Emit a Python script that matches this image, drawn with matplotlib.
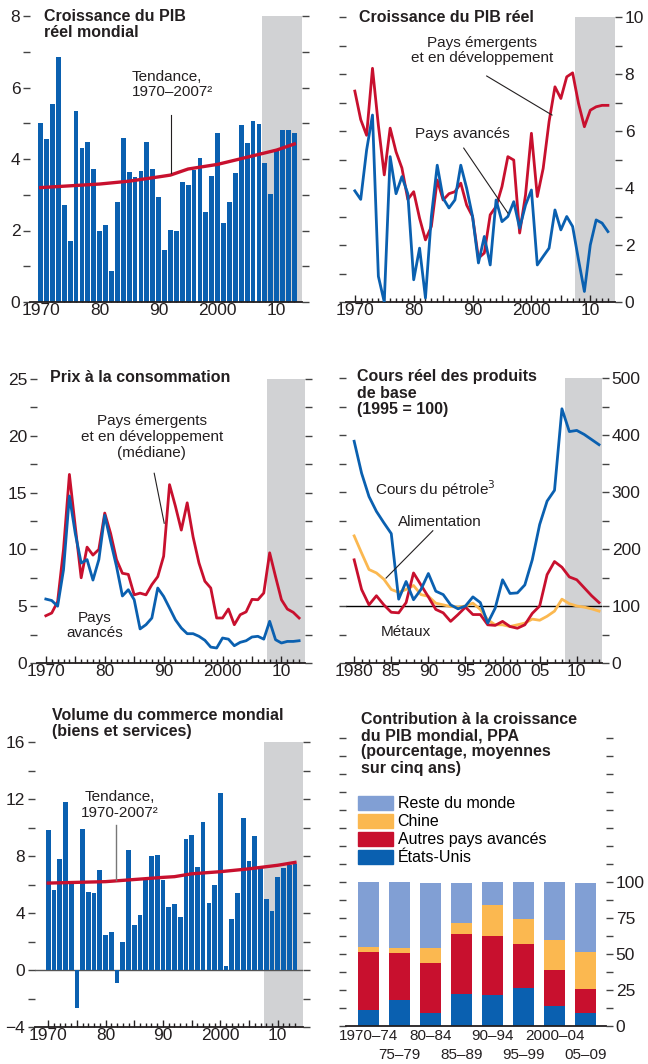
import numpy as np
import matplotlib
matplotlib.use('Agg')
import matplotlib.pyplot as plt
from matplotlib.patches import Patch
from matplotlib.ticker import FixedLocator, MultipleLocator

plt.rcParams['font.family'] = ['Liberation Sans', 'DejaVu Sans']

BLUE = '#0a60b0'
RED = '#c8102e'
ORANGE = '#fbb850'
LIGHTBLUE = '#819fd4'
SHADE = '#d1d2d4'
DARK = '#231f20'

TICK_FS = 12.5
TITLE_FS = 11.5
NOTE_FS = 11

# ---- data ----
years = np.arange(1970, 2014)

gdp_world = [5.0, 4.55, 5.53, 6.84, 2.71, 1.71, 5.34, 4.31, 4.47, 3.71,
             1.99, 2.15, 0.87, 2.80, 4.59, 3.63, 3.49, 3.67, 4.47, 3.71,
             2.94, 1.46, 2.02, 1.99, 3.35, 3.27, 3.70, 4.03, 2.53, 3.53,
             4.72, 2.21, 2.80, 3.60, 4.94, 4.46, 5.07, 4.99, 3.89, 3.02,
             4.21, 4.80, 4.80, 4.72]
trend_years = [1970, 1975, 1980, 1985, 1990, 1992, 1995, 2000, 2005, 2010, 2013]
gdp_trend = [3.2, 3.25, 3.3, 3.38, 3.5, 3.55, 3.72, 3.85, 4.05, 4.25, 4.42]

gdp_emde = [7.4, 6.4, 5.85, 8.2, 6.2, 4.46, 6.1, 5.27, 4.7, 3.6,
            3.87, 2.94, 2.18, 2.65, 4.28, 3.58, 3.8, 3.87, 4.17, 3.4,
            3.0, 1.54, 1.72, 3.06, 3.35, 4.05, 5.1, 4.98, 2.42, 3.76,
            5.92, 3.7, 4.69, 6.33, 7.55, 7.14, 7.9, 8.04, 6.97, 6.15,
            6.73, 6.85, 6.9, 6.9]
gdp_adv = [3.9, 3.6, 5.33, 6.56, 0.9, 0.0, 5.1, 3.8, 4.4, 3.8,
           0.78, 1.89, 0.14, 3.0, 4.8, 3.64, 3.3, 3.58, 4.8, 3.99,
           3.0, 1.37, 2.3, 1.3, 3.58, 2.82, 3.0, 3.52, 2.59, 3.4,
           3.93, 1.3, 1.6, 1.89, 3.23, 2.53, 3.0, 2.65, 1.48, 0.37,
           2.0, 2.88, 2.77, 2.47]

cpi_emde = [4.16, 4.4, 5.4, 10.0, 16.6, 12.0, 7.5, 10.2, 9.5, 10.0,
            13.2, 11.4, 9.1, 7.9, 7.8, 6.0, 6.15, 6.0, 6.9, 7.6,
            9.4, 15.7, 13.8, 11.7, 14.1, 11.1, 8.8, 7.2, 6.6, 3.96,
            3.96, 4.75, 3.37, 4.25, 4.5, 5.6, 5.57, 6.16, 9.7, 7.6,
            5.57, 4.75, 4.46, 3.96]
cpi_adv = [5.63, 5.5, 5.0, 8.2, 14.7, 11.4, 8.8, 9.1, 7.3, 9.1,
           13.0, 10.7, 8.5, 5.9, 6.45, 5.57, 3.0, 3.37, 3.96, 6.6,
           5.86, 4.84, 3.8, 3.08, 2.58, 2.58, 2.35, 2.0, 1.4, 1.32,
           2.2, 2.1, 1.52, 1.82, 1.96, 2.29, 2.35, 2.1, 3.67, 2.05,
           1.76, 1.9, 1.9, 1.96]

com_years = np.arange(1980, 2014)
oil = [389, 333, 292, 266, 246, 227, 112, 143, 111, 129,
       157, 126, 120, 102, 95, 100, 116, 106, 70, 96,
       146, 122, 123, 137, 181, 243, 284, 303, 446, 406,
       408, 401, 392, 383]
food = [223, 193, 164, 158, 147, 129, 124, 129, 136, 120,
        117, 105, 102, 99, 98, 100, 105, 94, 76, 67,
        67, 64, 67, 70, 77, 75, 82, 91, 112, 104,
        100, 98, 95, 91]
metals = [181, 129, 102, 118, 102, 89, 88, 106, 158, 137,
          116, 94, 88, 73, 85, 98, 85, 85, 67, 66,
          73, 64, 61, 67, 87, 100, 155, 178, 168, 151,
          146, 132, 118, 106]

trade = [9.8, 5.6, 7.8, 11.8, 6.2, -2.67, 9.87, 5.5, 5.4, 7.0,
         2.43, 2.7, -0.91, 2.0, 8.4, 3.13, 3.84, 6.34, 8.0, 8.1,
         6.3, 4.4, 4.6, 3.7, 9.17, 9.45, 7.2, 10.36, 4.68, 5.94,
         12.4, 0.28, 3.56, 5.38, 10.7, 7.63, 9.38, 7.16, 4.96, 4.12,
         6.5, 7.13, 7.37, 7.42]
trade_trend = [6.1, 6.15, 6.2, 6.35, 6.5, 6.55, 6.75, 6.9, 7.1, 7.35, 7.55]

periods = ['1970–74', '75–79', '80–84', '85–89', '90–94', '95–99', '2000–04', '05–09']
contrib_us = [11.2, 18.1, 8.8, 22.3, 21.6, 26.7, 14.2, 8.8]
contrib_other_adv = [40.2, 32.6, 34.9, 41.7, 41.2, 30.3, 24.9, 17.0]
contrib_china = [3.7, 3.5, 10.5, 7.6, 20.9, 17.0, 20.9, 25.8]
contrib_rest = [44.9, 45.8, 44.8, 27.4, 16.3, 26.0, 40.0, 47.4]

W, H = 648, 1064
fig = plt.figure(figsize=(W / 100, H / 100), dpi=100)


def add_ax(left, right, top, bottom):
    return fig.add_axes([left / W, 1 - bottom / H, (right - left) / W, (bottom - top) / H])


def style(ax, ymaj, ymin, side):
    for s in ['left', 'right', 'top']:
        ax.spines[s].set_visible(False)
    ax.spines['bottom'].set_color(DARK)
    ax.spines['bottom'].set_linewidth(1.3)
    ax.yaxis.set_major_locator(MultipleLocator(ymaj))
    ax.yaxis.set_minor_locator(MultipleLocator(ymin))
    ax.tick_params(axis='y', which='both', direction='out', length=5, width=1,
                   color='#444444', left=True, right=True,
                   labelleft=(side == 'left'), labelright=(side == 'right'),
                   labelsize=TICK_FS, labelcolor=DARK, pad=2)


def xticks(ax, majors, labels, first, last):
    ax.xaxis.set_major_locator(FixedLocator(majors))
    ax.set_xticklabels(labels)
    ax.xaxis.set_minor_locator(FixedLocator(np.arange(first, last + 1)))
    ax.tick_params(axis='x', which='major', direction='in', length=5, width=1,
                   color=DARK, labelsize=TICK_FS, labelcolor=DARK, pad=1)
    ax.tick_params(axis='x', which='minor', direction='in', length=3, width=1,
                   color=DARK)


def title(ax, x, y, txt):
    ax.text(x, y, txt, transform=ax.transAxes, ha='left', va='top',
            fontsize=TITLE_FS, fontweight='bold', color=DARK, linespacing=1.1)


dec_majors = [1970, 1975, 1980, 1985, 1990, 1995, 2000, 2005, 2010]
dec_labels = ['1970', '', '80', '', '90', '', '2000', '', '10']

# ---- panel 1: world GDP growth ----
ax1 = add_ax(30, 302, 16, 302)
ax1.axvspan(2007.5, 2015, color=SHADE, lw=0, zorder=0)
ax1.bar(years, gdp_world, width=0.82, color=BLUE, zorder=2)
ax1.plot(trend_years, gdp_trend, color=RED, lw=2.4, zorder=3)
ax1.set_xlim(1968.2, 2014.3)
ax1.set_ylim(0, 8)
ax1.set_axisbelow(True)
style(ax1, 2, 1, 'left')
xticks(ax1, dec_majors, dec_labels, 1970, 2013)
title(ax1, 0.05, 1.025, 'Croissance du PIB\nréel mondial')
ax1.text(1985.5, 6.5, 'Tendance,\n1970–2007²', ha='left', va='top', fontsize=NOTE_FS,
         color=DARK, linespacing=1.15)
ax1.plot([1992.1, 1992.1], [5.23, 3.62], color=DARK, lw=0.8, zorder=4)

# ---- panel 2: real GDP growth by group ----
ax2 = add_ax(346, 615, 17, 302)
ax2.axvspan(2007.4, 2015, color=SHADE, lw=0, zorder=0)
ax2.plot(years, gdp_emde, color=RED, lw=2.0, zorder=2)
ax2.plot(years, gdp_adv, color=BLUE, lw=2.0, zorder=3)
ax2.set_xlim(1968.5, 2014.2)
ax2.set_ylim(0, 10)
style(ax2, 2, 1, 'right')
xticks(ax2, dec_majors, dec_labels, 1970, 2013)
title(ax2, 0.048, 1.025, 'Croissance du PIB réel')
ax2.text(1991.6, 9.35, 'Pays émergents\net en développement', ha='center', va='top',
         fontsize=NOTE_FS, color=DARK, linespacing=1.15)
ax2.plot([1992.4, 2003.5], [7.93, 6.56], color=DARK, lw=0.8, zorder=4)
ax2.text(1988.2, 6.15, 'Pays avancés', ha='center', va='top', fontsize=NOTE_FS, color=DARK)
ax2.plot([1988.5, 1996.0], [5.4, 3.12], color=DARK, lw=0.8, zorder=4)

# ---- panel 3: consumer prices ----
ax3 = add_ax(37, 305, 379, 663)
ax3.axvspan(2007.6, 2015, color=SHADE, lw=0, zorder=0)
ax3.plot(years, cpi_emde, color=RED, lw=2.0, zorder=2)
ax3.plot(years, cpi_adv, color=BLUE, lw=2.0, zorder=3)
ax3.set_xlim(1968.5, 2014.0)
ax3.set_ylim(0, 25)
style(ax3, 5, 2.5, 'left')
xticks(ax3, dec_majors, dec_labels, 1970, 2013)
title(ax3, 0.049, 1.03, 'Prix à la consommation')
ax3.text(1988.0, 21.9, 'Pays émergents\net en développement\n(médiane)', ha='center',
         va='top', fontsize=NOTE_FS, color=DARK, linespacing=1.15)
ax3.plot([1988.4, 1990.1], [16.7, 12.3], color=DARK, lw=0.8, zorder=4)
ax3.text(1978.3, 4.6, 'Pays\navancés', ha='center', va='top', fontsize=NOTE_FS,
         color=DARK, linespacing=1.15)

# ---- panel 4: real commodity prices ----
ax4 = add_ax(346, 602, 378, 663)
ax4.axvspan(2008.4, 2015, color=SHADE, lw=0, zorder=0)
ax4.axhline(100, color='black', lw=1.0, zorder=1)
ax4.plot(com_years, food, color=ORANGE, lw=2.0, zorder=2)
ax4.plot(com_years, metals, color=RED, lw=2.0, zorder=3)
ax4.plot(com_years, oil, color=BLUE, lw=2.0, zorder=4)
ax4.set_xlim(1978.9, 2013.4)
ax4.set_ylim(0, 500)
style(ax4, 100, 50, 'right')
xticks(ax4, [1980, 1985, 1990, 1995, 2000, 2005, 2010],
       ['1980', '85', '90', '95', '2000', '05', '10'], 1980, 2013)
title(ax4, 0.043, 1.03, 'Cours réel des produits\nde base\n(1995 = 100)')
ax4.text(1982.8, 305, 'Cours du pétrole$^3$', ha='left', va='center', fontsize=NOTE_FS,
         color=DARK)
ax4.text(1991.5, 247, 'Alimentation', ha='center', va='center', fontsize=NOTE_FS, color=DARK)
ax4.plot([1990.6, 1984.3], [232, 149], color=DARK, lw=0.8, zorder=5)
ax4.text(1987.0, 54, 'Métaux', ha='center', va='center', fontsize=NOTE_FS, color=DARK)

# ---- panel 5: world trade volume ----
ax5 = add_ax(35, 303, 742, 1027)
ax5.axvspan(2007.6, 2015, color=SHADE, lw=0, zorder=0)
ax5.axhline(0, color='#555555', lw=1.0, zorder=1)
ax5.bar(years, trade, width=0.82, color=BLUE, zorder=2)
ax5.plot(trend_years, trade_trend, color=RED, lw=2.4, zorder=3)
ax5.set_xlim(1967.7, 2014.4)
ax5.set_ylim(-4, 16)
ax5.set_axisbelow(True)
style(ax5, 4, 2, 'left')
xticks(ax5, dec_majors, dec_labels, 1970, 2013)
title(ax5, 0.063, 1.12, 'Volume du commerce mondial\n(biens et services)')
ax5.text(1982.4, 12.6, 'Tendance,\n1970-2007²', ha='center', va='top', fontsize=NOTE_FS,
         color=DARK, linespacing=1.15)
ax5.plot([1981.8, 1981.8], [10.2, 6.3], color='#777777', lw=1.0, zorder=4)

# ---- panel 6: contribution to world growth ----
ax6 = add_ax(346, 606, 738, 1026)
x = np.arange(len(periods))
bottom = np.zeros(len(periods))
for vals, col in [(contrib_us, BLUE), (contrib_other_adv, RED),
                  (contrib_china, ORANGE), (contrib_rest, LIGHTBLUE)]:
    ax6.bar(x, vals, bottom=bottom, width=0.68, color=col, zorder=2)
    bottom = bottom + np.array(vals)
ax6.set_xlim(-0.71, 7.65)
ax6.set_ylim(0, 200)
for s in ['left', 'right', 'top']:
    ax6.spines[s].set_visible(False)
ax6.spines['bottom'].set_color(DARK)
ax6.spines['bottom'].set_linewidth(1.3)
ax6.yaxis.set_major_locator(FixedLocator([0, 25, 50, 75, 100]))
ax6.yaxis.set_minor_locator(FixedLocator(np.arange(12.5, 200.1, 12.5)))
ax6.tick_params(axis='y', which='both', direction='out', length=5, width=1,
                color='#444444', left=True, right=True, labelleft=False,
                labelright=True, labelsize=TICK_FS, labelcolor=DARK, pad=2)
# two staggered rows of period labels: even periods on major ticks, odd on minor
ax6.set_xticks(x[::2])
ax6.set_xticklabels(periods[::2])
ax6.set_xticks(x[1::2], minor=True)
ax6.set_xticklabels(periods[1::2], minor=True)
ax6.tick_params(axis='x', which='major', length=0, labelsize=11, labelcolor=DARK, pad=2)
ax6.tick_params(axis='x', which='minor', length=0, labelsize=11, labelcolor=DARK, pad=16)
title(ax6, 0.058, 1.09, 'Contribution à la croissance\ndu PIB mondial, PPA\n'
      '(pourcentage, moyennes\nsur cinq ans)')
handles = [Patch(color=LIGHTBLUE), Patch(color=ORANGE), Patch(color=RED), Patch(color=BLUE)]
ax6.legend(handles, ['Reste du monde', 'Chine', 'Autres pays avancés', 'États-Unis'],
           loc='upper left', bbox_to_anchor=(0.045, 0.80), frameon=False,
           fontsize=11.5, handlelength=2.2, handleheight=1.0, handletextpad=0.3,
           labelspacing=0.15, borderpad=0, borderaxespad=0)

fig.savefig('out.png', dpi=100)
